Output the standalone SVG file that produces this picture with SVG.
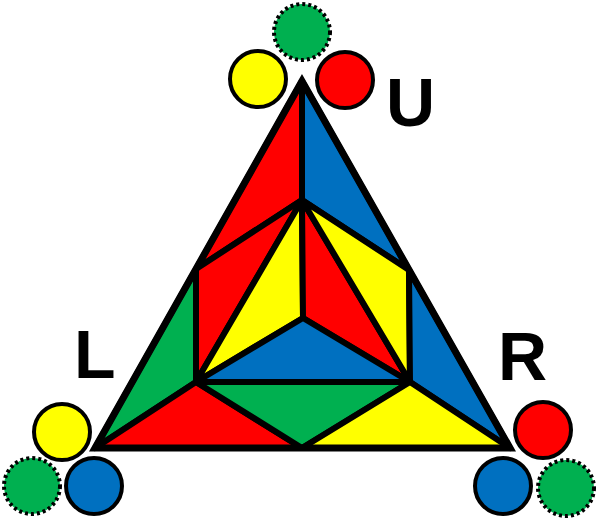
<svg xmlns="http://www.w3.org/2000/svg" width="597" height="519" viewBox="0 0 597 519">
<style>
.f{stroke:#000;stroke-width:6;stroke-linejoin:round}
.r{fill:#FF0000}.b{fill:#0070C0}.y{fill:#FFFF00}.g{fill:#00B050}
.c{stroke:#000;stroke-width:4}
.d{stroke:#000;stroke-width:4;stroke-dasharray:3 3}
.lbl{font-family:"Liberation Sans",Arial,sans-serif;font-weight:bold;font-size:68px;fill:#000}
</style>
<g id="pyramid">
<polygon class="f r" points="302,81 302,200 196,269"/>
<polygon class="f b" points="302,81 302,200 409,270"/>
<polygon class="f r" points="196,269 302,200 196,382"/>
<polygon class="f y" points="302,200 196,382 303,318"/>
<polygon class="f r" points="302,200 303,318 410,382"/>
<polygon class="f y" points="302,200 409,270 410,382"/>
<polygon class="f b" points="303,318 196,382 410,382"/>
<polygon class="f g" points="196,269 196,382 95,448"/>
<polygon class="f b" points="409,270 410,382 510,448"/>
<polygon class="f r" points="95,448 196,382 302,448"/>
<polygon class="f g" points="196,382 410,382 302,448"/>
<polygon class="f y" points="302,448 410,382 510,448"/>
<polygon points="302,81 95,448 510,448" fill="none" stroke="#000" stroke-width="7" stroke-linejoin="miter"/>
</g>
<g id="circles-U">
<circle class="d g" cx="302" cy="32" r="28"/>
<circle class="c y" cx="258" cy="79" r="28"/>
<circle class="c r" cx="345" cy="80" r="28"/>
</g>
<g id="circles-L">
<circle class="c y" cx="62" cy="432" r="28"/>
<circle class="d g" cx="32" cy="486" r="28"/>
<circle class="c b" cx="94" cy="486" r="28"/>
</g>
<g id="circles-R">
<circle class="c r" cx="543" cy="430" r="28"/>
<circle class="c b" cx="503" cy="486" r="28"/>
<circle class="d g" cx="566" cy="488" r="28"/>
</g>
<g id="labels">
<text class="lbl" x="386" y="126">U</text>
<text class="lbl" x="74" y="378">L</text>
<text class="lbl" x="498" y="380">R</text>
</g>
<g id="connectors"></g>
</svg>
